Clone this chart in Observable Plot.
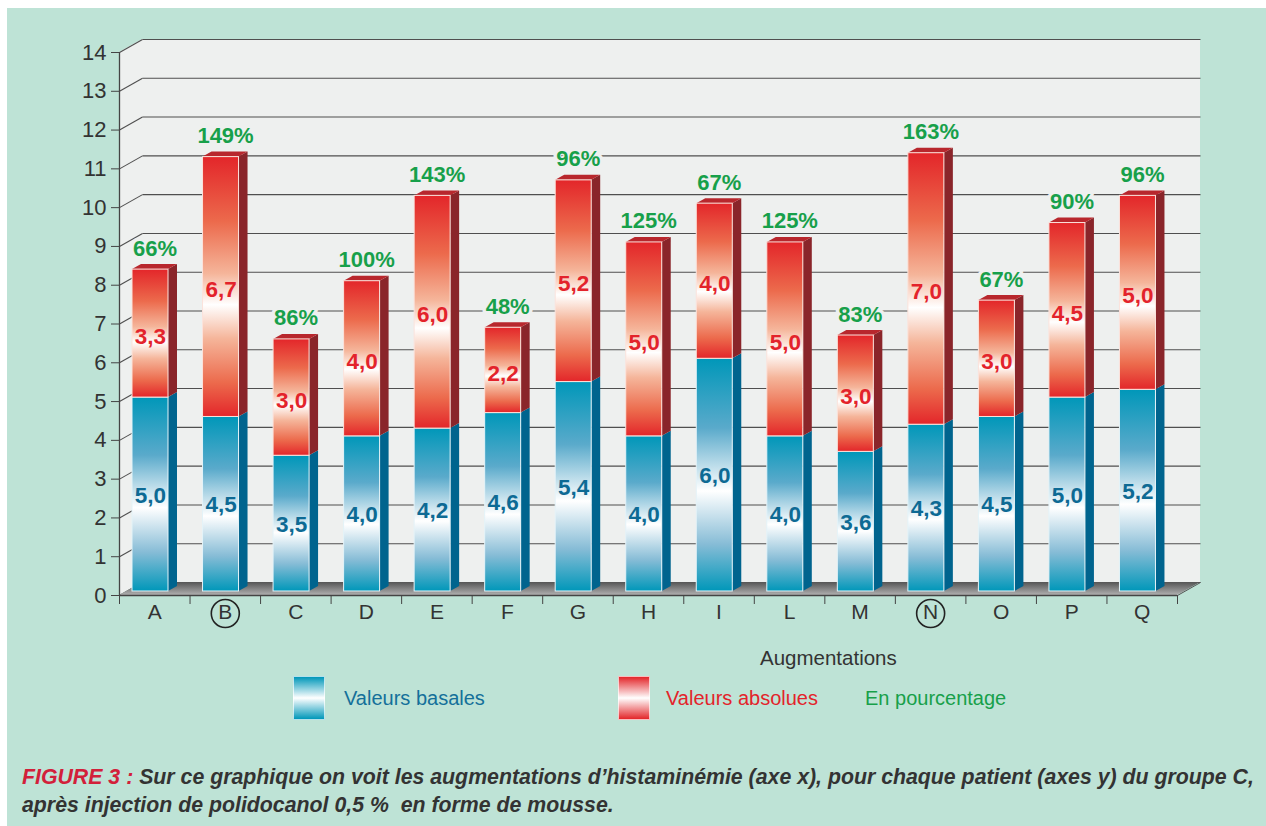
<!DOCTYPE html>
<html><head><meta charset="utf-8">
<script src="https://cdn.jsdelivr.net/npm/d3@7"></script>
<script src="https://cdn.jsdelivr.net/npm/@observablehq/plot@0.6"></script>
<style>
body{margin:0;background:#fff;font-family:"Liberation Sans",Arial,sans-serif;}
#page{position:relative;width:1266px;height:826px;overflow:hidden;}
#panel{position:absolute;left:7px;top:8px;right:0;bottom:0;background:#bee3d6;}
#chart{position:absolute;left:0;top:0;}
.xlabel{position:absolute;left:760px;top:646px;font-size:20.5px;color:#333;line-height:24px;}
.sw{position:absolute;top:676px;width:32px;height:44px;box-sizing:border-box;border:1px solid rgba(255,255,255,0.7);}
.lt{position:absolute;top:686px;font-size:20px;line-height:24px;}
.caption{position:absolute;left:22px;top:763px;font-size:21.3px;line-height:28px;color:#333;font-style:italic;font-weight:bold;font-family:"Liberation Sans Narrow","Liberation Sans",sans-serif;}
.caption .fig{color:#d2203a;}
</style></head>
<body>
<svg width="0" height="0" style="position:absolute">
 <defs>
  <linearGradient id="blueGrad" x1="0" y1="0" x2="0" y2="1">
   <stop offset="0" stop-color="#0097b9"/>
   <stop offset="0.3" stop-color="#5aaacb"/>
   <stop offset="0.57" stop-color="#ffffff"/>
   <stop offset="0.8" stop-color="#86bcd6"/>
   <stop offset="1" stop-color="#0097b9"/>
  </linearGradient>
  <linearGradient id="redGrad" x1="0" y1="0" x2="0" y2="1">
   <stop offset="0" stop-color="#e3262a"/>
   <stop offset="0.25" stop-color="#ec6a4c"/>
   <stop offset="0.45" stop-color="#f5b59a"/>
   <stop offset="0.57" stop-color="#ffffff"/>
   <stop offset="0.7" stop-color="#f5b59a"/>
   <stop offset="0.87" stop-color="#ec6a4c"/>
   <stop offset="1" stop-color="#e3262a"/>
  </linearGradient>
  <linearGradient id="floorGrad" x1="0" y1="0" x2="0" y2="1">
   <stop offset="0" stop-color="#555555"/>
   <stop offset="1" stop-color="#b0b0b0"/>
  </linearGradient>
 </defs>
</svg>
<div id="page">
 <div id="panel"></div>
 <div id="chart"></div>
 <div class="xlabel">Augmentations</div>
 <div class="sw" style="left:293px;background:linear-gradient(#0097b9,#ffffff 50%,#0097b9)"></div>
 <div class="lt" style="left:344px;color:#14709a">Valeurs basales</div>
 <div class="sw" style="left:618px;background:linear-gradient(#e3262a,#ffffff 50%,#e3262a)"></div>
 <div class="lt" style="left:666px;color:#e3232b">Valeurs absolues</div>
 <div class="lt" style="left:865px;color:#17a04a">En pourcentage</div>
 <div class="caption"><span class="fig">FIGURE 3 :</span> Sur ce graphique on voit les augmentations d’histaminémie (axe x), pour chaque patient (axes y) du groupe C,<br>après injection de polidocanol 0,5 %&nbsp; en forme de mousse.</div>
</div>
<script>
const categories = ["A","B","C","D","E","F","G","H","I","L","M","N","O","P","Q"];
const basal =    [5.0,4.5,3.5,4.0,4.2,4.6,5.4,4.0,6.0,4.0,3.6,4.3,4.5,5.0,5.2];
const absolute = [3.3,6.7,3.0,4.0,6.0,2.2,5.2,5.0,4.0,5.0,3.0,7.0,3.0,4.5,5.0];
const percent =  [66,149,86,100,143,48,96,125,67,125,83,163,67,90,96];
const circled = ["B","N"];
const yTicks = d3.range(0, 15);

const W = 1266, H = 640, mL = 119, mR = 89, mT = 52, mB = 45;
const nCat = categories.length, yMax = 14;
const kx = (W - mL - mR) / nCat;       // px per x unit
const ky = (H - mT - mB) / yMax;       // px per y unit
const wdx = 23 / kx, wdy = 13 / ky;    // back wall depth
const off = 13 / kx, bw = 36 / kx;     // bar front offset & width
const bdx = 9 / kx, bdy = 5 / ky;      // bar depth
const lift = -4;                        // bars stand slightly behind the front edge

const fmt = v => d3.format(".1f")(v).replace(".", ",");

const segs = categories.flatMap((c, i) => [
  {i, key: c + "b", kind: "b", lo: 0, hi: basal[i], v: basal[i]},
  {i, key: c + "r", kind: "r", lo: basal[i], hi: basal[i] + absolute[i], v: absolute[i]}
]);
const sidePts = segs.flatMap(s => {
  const xr = s.i + off + bw;
  return [{key: s.key, kind: s.kind, x: xr, y1: s.lo, y2: s.hi},
          {key: s.key, kind: s.kind, x: xr + bdx, y1: s.lo + bdy, y2: s.hi + bdy}];
});
const topPts = segs.filter(s => s.kind === "r").flatMap(s => {
  const xl = s.i + off, xr = xl + bw;
  return [{key: s.key, y: s.hi, x1: xl, x2: xr}, {key: s.key, y: s.hi + bdy, x1: xl + bdx, x2: xr + bdx}];
});

const wallFill = "#eef0ef", gridColor = "#4f4f4f";

const chart = Plot.plot({
  width: W, height: H,
  marginLeft: mL, marginRight: mR, marginTop: mT, marginBottom: mB,
  x: {domain: [0, nCat]},
  y: {domain: [0, yMax]},
  style: {fontFamily: "Liberation Sans, Arial, sans-serif", color: "#333", background: "transparent", overflow: "visible"},
  marks: [
    // left side wall
    Plot.areaY([{x: 0, y1: 0, y2: yMax}, {x: wdx, y1: wdy, y2: yMax + wdy}], {x: "x", y1: "y1", y2: "y2", fill: wallFill}),
    // back wall
    Plot.rect([0], {x1: wdx, x2: nCat + wdx, y1: wdy, y2: yMax + wdy, fill: wallFill}),
    // grid lines on back wall and left wall
    Plot.link(yTicks, {x1: wdx, x2: nCat + wdx, y1: d => d + wdy, y2: d => d + wdy, stroke: gridColor, strokeWidth: 1.1}),
    Plot.link(yTicks, {x1: 0, y1: d => d, x2: wdx, y2: d => d + wdy, stroke: gridColor, strokeWidth: 1.1}),
    // floor
    Plot.areaX([{y: 0, x1: 0, x2: nCat}, {y: wdy, x1: wdx, x2: nCat + wdx}], {y: "y", x1: "x1", x2: "x2", fill: "url(#floorGrad)"}),
    Plot.link([0], {x1: nCat, y1: 0, x2: nCat + wdx, y2: wdy, stroke: "#555", strokeWidth: 1}),
    // axis lines
    Plot.ruleX([0], {y1: 0, y2: yMax, stroke: "#444", strokeWidth: 1.3}),
    Plot.ruleY([0], {x1: 0, x2: nCat, stroke: "#444", strokeWidth: 1.3}),
    // bars: side faces
    Plot.areaY(sidePts.filter(d => d.kind === "b"), {x: "x", y1: "y1", y2: "y2", z: "key", fill: "#00648e", dy: lift}),
    Plot.areaY(sidePts.filter(d => d.kind === "r"), {x: "x", y1: "y1", y2: "y2", z: "key", fill: "#8a252a", dy: lift}),
    // top faces
    Plot.areaX(topPts, {y: "y", x1: "x1", x2: "x2", z: "key", fill: "#b8272d", dy: lift}),
    // front faces
    Plot.rect(segs.filter(s => s.kind === "b"), {x1: d => d.i + off, x2: d => d.i + off + bw, y1: "lo", y2: "hi", fill: "url(#blueGrad)", stroke: "#e4f3f8", strokeWidth: 1, dy: lift}),
    Plot.rect(segs.filter(s => s.kind === "r"), {x1: d => d.i + off, x2: d => d.i + off + bw, y1: "lo", y2: "hi", fill: "url(#redGrad)", stroke: "#fbe3dc", strokeWidth: 1, dy: lift}),
    // value labels
    Plot.text(segs.filter(s => s.kind === "b"), {x: d => d.i + off + bw / 2, y: d => (d.lo + d.hi) / 2, text: d => fmt(d.v), fill: "#0d6a94", fontSize: 22.5, fontWeight: "bold", dy: lift + 1}),
    Plot.text(segs.filter(s => s.kind === "r"), {x: d => d.i + off + bw / 2, y: d => (d.lo + d.hi) / 2, text: d => fmt(d.v), fill: "#e3232b", fontSize: 22.5, fontWeight: "bold", dy: lift + 3}),
    // percentage labels
    Plot.text(categories, {x: (d, i) => i + off + bw / 2 + bdx / 2, y: (d, i) => basal[i] + absolute[i], text: (d, i) => percent[i] + "%",
      fill: "#17a04a", fontSize: 22, fontWeight: "bold", stroke: wallFill, strokeWidth: 7, paintOrder: "stroke", dy: lift - 21}),
    // axes
    Plot.axisY({ticks: yTicks, tickSize: 8, tickPadding: 5, fontSize: 22, tickFormat: d => d, stroke: "#444"}),
    Plot.axisX({ticks: d3.range(0, nCat + 1), tickSize: 9, tickFormat: () => "", stroke: "#444"}),
    Plot.axisX({ticks: d3.range(0, nCat).map(i => i + 0.5), tickSize: 0, tickPadding: 9, fontSize: 21, tickFormat: d => categories[Math.floor(d)]}),
    // circled patients
    Plot.dot(circled, {x: d => categories.indexOf(d) + 0.5, y: 0, dy: 18, r: 14, stroke: "#222", strokeWidth: 1.6, fill: "none"})
  ]
});
document.getElementById("chart").appendChild(chart);
</script>
</body></html>
